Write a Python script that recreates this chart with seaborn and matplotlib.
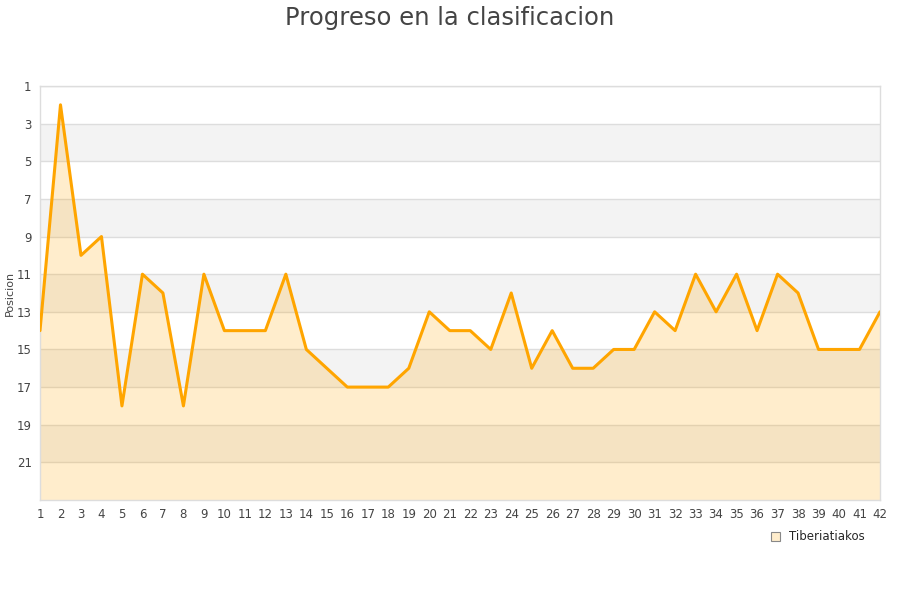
import matplotlib
matplotlib.use("Agg")
import matplotlib.pyplot as plt
import seaborn as sns
import pandas as pd
from matplotlib.patches import Patch

jornadas = list(range(1, 43))
posiciones = [14, 2, 10, 9, 18, 11, 12, 18, 11, 14, 14, 14, 11, 15, 16, 17, 17, 17, 16, 13,
              14, 14, 15, 12, 16, 14, 16, 16, 15, 15, 13, 14, 11, 13, 11, 14, 11, 12, 15, 15,
              15, 13]
equipo = "Tiberiatiakos"
titulo = "Progreso en la clasificacion"
y_ticks = list(range(1, 22, 2))

df = pd.DataFrame({"Jornada": jornadas, "Posicion": posiciones})

sns.set_style("white")
plt.rcParams['font.family'] = ['DejaVu Sans']

fig = plt.figure(figsize=(9, 6), dpi=100)
ax = fig.add_axes([40/900, 1-500/600, 840/900, 414/600])

ymax = 23
# alternating bands
for i, start in enumerate(range(1, ymax, 2)):
    if i % 2 == 1:
        ax.axhspan(start, start + 2, color="#f3f3f3", zorder=0, lw=0)
for t in y_ticks:
    ax.axhline(t, color="#dddddd", lw=1, zorder=1)

ax.fill_between(df["Jornada"], df["Posicion"], ymax, color="#FFA500", alpha=0.2, lw=0, zorder=2)
sns.lineplot(data=df, x="Jornada", y="Posicion", ax=ax, color="#FFA500", lw=2.2, zorder=3)

ax.set_xlim(1, 42)
ax.set_ylim(ymax, 1)
ax.set_xticks(jornadas)
ax.set_yticks(y_ticks)
ax.tick_params(axis="both", length=0, labelsize=8.5, colors="#444444", pad=6)
ax.set_xlabel("")
ax.set_ylabel("Posicion", fontsize=8, color="#444444", labelpad=1)
for s in ax.spines.values():
    s.set_color("#dddddd")
    s.set_linewidth(1)

fig.suptitle(titulo, fontsize=17.5, color="#444444", y=0.99)

handles = [Patch(facecolor="#FFEDCC", edgecolor="#888888", lw=0.8, label=equipo)]
fig.legend(handles=handles, loc="center", bbox_to_anchor=(818/900, 1-537/600), frameon=False,
           fontsize=8.5, handlelength=0.7, handleheight=0.7, handletextpad=0.8)

fig.savefig("out.png", dpi=100)
